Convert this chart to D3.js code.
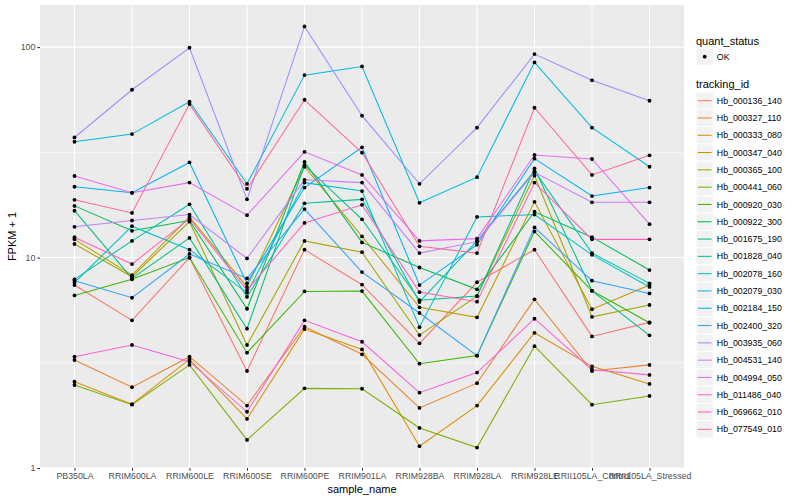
<!DOCTYPE html>
<html>
<head>
<meta charset="utf-8">
<script src="https://cdnjs.cloudflare.com/ajax/libs/d3/7.8.5/d3.min.js"></script>
<style>
  body { margin: 0; background: #ffffff; }
  svg text { font-family: "Liberation Sans", Arial, Helvetica, sans-serif; }
</style>
</head>
<body>
<script>
// samples on the x axis
var samples = ["PB350LA", "RRIM600LA", "RRIM600LE", "RRIM600SE", "RRIM600PE", "RRIM901LA",
               "RRIM928BA", "RRIM928LA", "RRIM928LE", "RRII105LA_Control", "RRII105LA_Stressed"];

// FPKM + 1 per gene, one value per sample
var hb_000136_140 = [7.40, 5.03, 9.98, 2.89, 10.9, 7.43, 3.91, 7.63, 10.9, 4.22, 4.92];
var hb_000327_110 = [3.26, 2.42, 3.38, 1.98, 4.69, 3.47, 1.93, 2.53, 6.33, 2.89, 3.09];
var hb_000333_080 = [2.57, 2.01, 3.28, 1.71, 4.57, 3.66, 1.27, 1.98, 4.39, 3.04, 2.51];
var hb_000347_040 = [12.2, 8.25, 15.6, 7.25, 27.0, 12.6, 5.80, 5.20, 18.4, 5.68, 7.40];
var hb_000365_100 = [11.6, 8.10, 14.8, 3.84, 12.0, 10.6, 4.28, 6.56, 24.5, 5.23, 5.95];
var hb_000441_060 = [2.48, 2.00, 3.09, 1.36, 2.39, 2.38, 1.55, 1.25, 3.79, 2.00, 2.20];
var hb_000920_030 = [6.61, 7.88, 10.0, 3.53, 6.90, 6.93, 3.13, 3.42, 13.3, 6.95, 4.90];
var hb_000922_300 = [17.6, 13.4, 15.0, 5.71, 28.5, 11.8, 8.97, 7.06, 16.5, 12.5, 8.72];
var hb_001675_190 = [16.7, 7.96, 12.4, 4.59, 27.5, 15.2, 6.27, 6.56, 26.5, 6.95, 4.27];
var hb_001828_040 = [7.88, 12.0, 17.9, 6.50, 18.1, 18.9, 6.15, 12.0, 25.8, 10.5, 7.54];
var hb_002078_160 = [7.59, 14.1, 10.9, 6.80, 22.7, 20.7, 4.67, 15.6, 16.0, 10.3, 7.25];
var hb_002079_030 = [35.5, 38.6, 55.0, 22.4, 73.6, 80.9, 18.2, 24.1, 84.6, 41.4, 27.0];
var hb_002184_150 = [21.7, 20.3, 28.3, 7.54, 21.5, 33.4, 7.40, 11.5, 29.5, 19.6, 21.5];
var hb_002400_320 = [7.76, 6.44, 10.4, 7.96, 17.0, 8.53, 5.45, 3.42, 13.9, 7.76, 6.75];
var hb_003935_060 = [37.2, 62.7, 99.3, 18.9, 125.4, 47.2, 22.4, 41.4, 92.6, 69.5, 55.6];
var hb_004531_140 = [14.0, 15.0, 16.0, 9.90, 23.4, 22.7, 10.5, 11.9, 25.4, 18.3, 18.3];
var hb_004994_050 = [24.4, 20.3, 22.7, 15.9, 31.8, 24.7, 12.0, 12.3, 30.7, 29.4, 14.4];
var hb_011486_040 = [3.38, 3.84, 3.20, 1.85, 5.03, 3.98, 2.28, 2.84, 5.12, 2.93, 2.77];
var hb_069662_010 = [12.5, 9.31, 15.3, 7.00, 14.6, 17.8, 6.85, 6.17, 22.7, 12.2, 12.2];
var hb_077549_010 = [18.8, 16.3, 53.6, 21.2, 56.2, 31.5, 11.3, 10.5, 51.5, 24.7, 30.6];

var trackingIds = ["Hb_000136_140", "Hb_000327_110", "Hb_000333_080", "Hb_000347_040", "Hb_000365_100",
                   "Hb_000441_060", "Hb_000920_030", "Hb_000922_300", "Hb_001675_190", "Hb_001828_040",
                   "Hb_002078_160", "Hb_002079_030", "Hb_002184_150", "Hb_002400_320", "Hb_003935_060",
                   "Hb_004531_140", "Hb_004994_050", "Hb_011486_040", "Hb_069662_010", "Hb_077549_010"];
var seriesValues = [hb_000136_140, hb_000327_110, hb_000333_080, hb_000347_040, hb_000365_100,
                    hb_000441_060, hb_000920_030, hb_000922_300, hb_001675_190, hb_001828_040,
                    hb_002078_160, hb_002079_030, hb_002184_150, hb_002400_320, hb_003935_060,
                    hb_004531_140, hb_004994_050, hb_011486_040, hb_069662_010, hb_077549_010];
var quantStatus = ["OK"];
var yTicks = [1, 10, 100];

// ggplot default hue palette, 20 levels
var hues = ["#F8766D", "#EA8331", "#D89000", "#C09B00", "#A3A500", "#7CAE00", "#39B600", "#00BB4E",
            "#00BF7D", "#00C1A3", "#00BFC4", "#00BAE0", "#00B0F6", "#35A2FF", "#9590FF", "#C77CFF",
            "#E76BF3", "#FA62DB", "#FF62BC", "#FF6C91"];

var series = trackingIds.map(function(id, i) {
  return { id: id, values: seriesValues[i].map(function(v, j) { return { sample: samples[j], v: v }; }) };
});

var W = 800, H = 500,
    panel = { left: 40, right: 684, top: 5, bottom: 468 };

var svg = d3.select("body").append("svg")
    .attr("width", W)
    .attr("height", H);

var x = d3.scalePoint()
    .domain(samples)
    .range([panel.left, panel.right])
    .padding(0.6);

var y = d3.scaleLog()
    .domain([1, Math.pow(10, 2.2)])
    .range([panel.bottom, panel.top]);

var color = d3.scaleOrdinal().domain(trackingIds).range(hues);

// panel background + grid
svg.append("rect")
    .attr("x", panel.left).attr("y", panel.top)
    .attr("width", panel.right - panel.left)
    .attr("height", panel.bottom - panel.top)
    .style("fill", "#EBEBEB");

var minorY = [Math.pow(10, 0.5), Math.pow(10, 1.5)];
svg.append("g").selectAll("line")
    .data(minorY)
  .enter().append("line")
    .attr("x1", panel.left).attr("x2", panel.right)
    .attr("y1", function(d) { return y(d); })
    .attr("y2", function(d) { return y(d); })
    .style("stroke", "#ffffff").style("stroke-width", 0.55);

svg.append("g").selectAll("line")
    .data(yTicks)
  .enter().append("line")
    .attr("x1", panel.left).attr("x2", panel.right)
    .attr("y1", function(d) { return y(d); })
    .attr("y2", function(d) { return y(d); })
    .style("stroke", "#ffffff").style("stroke-width", 1.1);

svg.append("g").selectAll("line")
    .data(samples)
  .enter().append("line")
    .attr("x1", function(d) { return x(d); })
    .attr("x2", function(d) { return x(d); })
    .attr("y1", panel.top).attr("y2", panel.bottom)
    .style("stroke", "#ffffff").style("stroke-width", 1.1);

// lines, then points
var line = d3.line()
    .x(function(d) { return x(d.sample); })
    .y(function(d) { return y(d.v); });

svg.append("g").selectAll("path")
    .data(series)
  .enter().append("path")
    .attr("d", function(d) { return line(d.values); })
    .style("fill", "none")
    .style("stroke", function(d) { return color(d.id); })
    .style("stroke-width", 1.05);

svg.append("g").selectAll("g")
    .data(series)
  .enter().append("g")
  .selectAll("circle")
    .data(function(d) { return d.values; })
  .enter().append("circle")
    .attr("cx", function(d) { return x(d.sample); })
    .attr("cy", function(d) { return y(d.v); })
    .attr("r", 1.9)
    .style("fill", "#000000");

// axes
var yAxis = svg.append("g")
    .attr("transform", "translate(" + panel.left + ",0)")
    .call(d3.axisLeft(y).tickValues(yTicks).tickFormat(d3.format("d")).tickSize(2.7).tickPadding(2));
var xAxis = svg.append("g")
    .attr("transform", "translate(0," + panel.bottom + ")")
    .call(d3.axisBottom(x).tickSize(2.7).tickPadding(2));

[yAxis, xAxis].forEach(function(ax) {
  ax.select(".domain").remove();
  ax.selectAll(".tick line").style("stroke", "#333333").style("stroke-width", 1.05);
  ax.selectAll(".tick text")
      .style("fill", "#4D4D4D")
      .style("font-size", "8.8px")
      .style("font-family", "'Liberation Sans', Arial, sans-serif");
});

svg.append("text")
    .attr("x", (panel.left + panel.right) / 2)
    .attr("y", 493)
    .attr("text-anchor", "middle")
    .style("font-size", "11px")
    .style("fill", "#000000")
    .text("sample_name");

svg.append("text")
    .attr("transform", "translate(16," + ((panel.top + panel.bottom) / 2) + ") rotate(-90)")
    .attr("text-anchor", "middle")
    .style("font-size", "11px")
    .style("fill", "#000000")
    .text("FPKM + 1");

// legends
var keySize = 17.3, legX = 696;

svg.append("text")
    .attr("x", legX).attr("y", 44.5)
    .style("font-size", "11px")
    .text("quant_status");

var qs = svg.append("g").selectAll("g")
    .data(quantStatus)
  .enter().append("g")
    .attr("transform", function(d, i) { return "translate(" + legX + "," + (48 + i * keySize) + ")"; });
qs.append("rect")
    .attr("width", keySize).attr("height", keySize)
    .style("fill", "#F2F2F2").style("stroke", "#ffffff");
qs.append("circle")
    .attr("cx", keySize / 2).attr("cy", keySize / 2).attr("r", 1.9)
    .style("fill", "#000000");
qs.append("text")
    .attr("x", keySize + 3.5).attr("y", keySize / 2 + 3.1)
    .style("font-size", "8.8px")
    .text(function(d) { return d; });

svg.append("text")
    .attr("x", legX).attr("y", 88)
    .style("font-size", "11px")
    .text("tracking_id");

var keys = svg.append("g").selectAll("g")
    .data(trackingIds)
  .enter().append("g")
    .attr("transform", function(d, i) { return "translate(" + legX + "," + (92 + i * keySize) + ")"; });
keys.append("rect")
    .attr("width", keySize).attr("height", keySize)
    .style("fill", "#F2F2F2").style("stroke", "#ffffff");
keys.append("line")
    .attr("x1", 1.7).attr("x2", keySize - 1.7)
    .attr("y1", keySize / 2).attr("y2", keySize / 2)
    .style("stroke", function(d) { return color(d); })
    .style("stroke-width", 1.05);
keys.append("text")
    .attr("x", keySize + 3.5).attr("y", keySize / 2 + 3.1)
    .style("font-size", "8.8px")
    .text(function(d) { return d; });
</script>
</body>
</html>
